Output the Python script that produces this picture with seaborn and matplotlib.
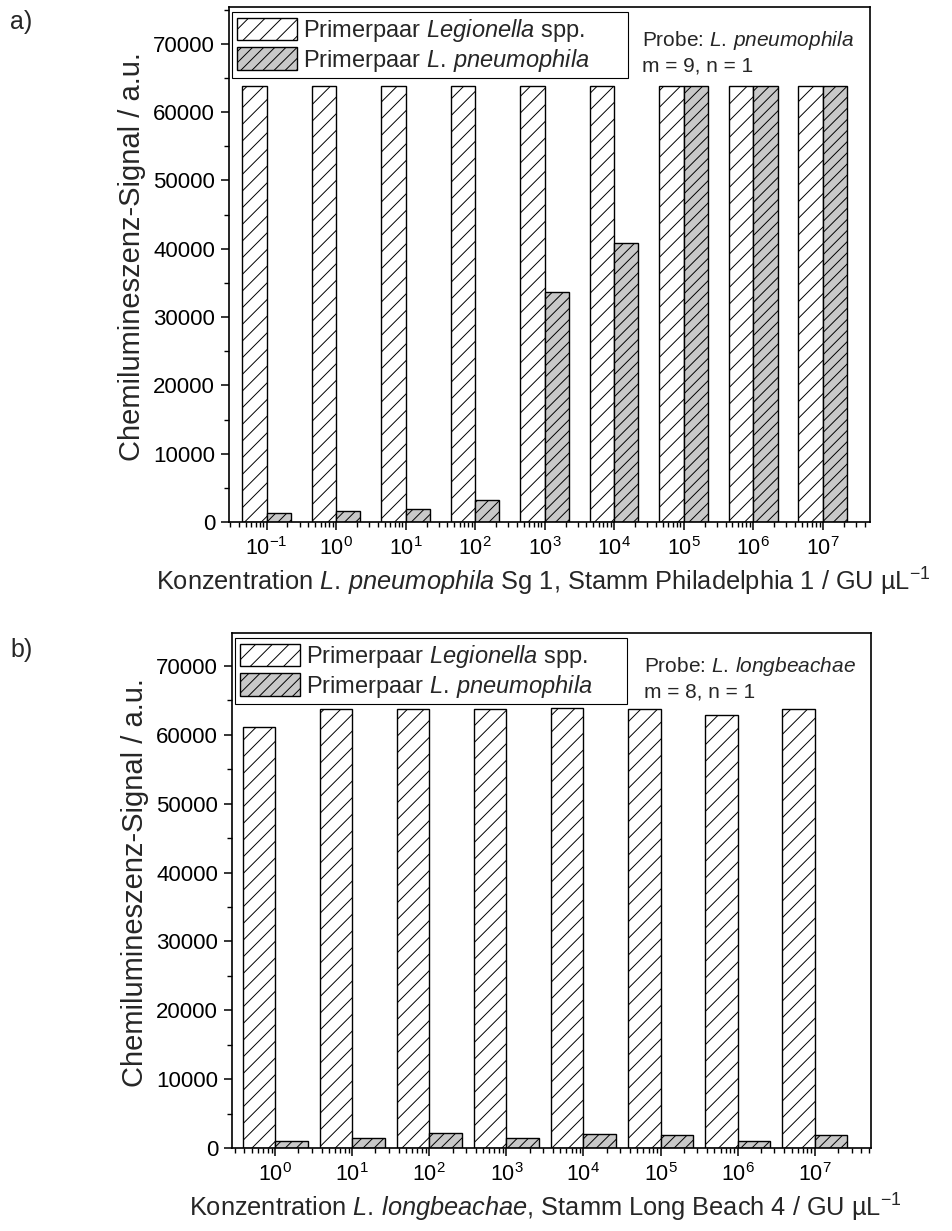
import numpy as np
import pandas as pd
import matplotlib
matplotlib.use("Agg")
import matplotlib.pyplot as plt
from matplotlib.patches import Patch
from matplotlib.ticker import MultipleLocator, FixedLocator
import seaborn as sns

# ---- data ----
series = ["Legionella spp.", "L. pneumophila"]

exp_a = [-1, 0, 1, 2, 3, 4, 5, 6, 7]
spp_a = [63900, 63900, 63900, 63900, 63900, 63900, 63900, 63900, 63900]
pn_a = [1270, 1570, 1860, 3180, 33700, 40800, 63900, 63900, 63900]

exp_b = [0, 1, 2, 3, 4, 5, 6, 7]
spp_b = [61100, 63800, 63800, 63800, 63900, 63800, 62900, 63800]
pn_b = [980, 1500, 2150, 1450, 2060, 1920, 1070, 1820]

ylabel = "Chemilumineszenz-Signal / a.u."
xlabel_a = r"Konzentration $\mathit{L.\,pneumophila}$ Sg 1, Stamm Philadelphia 1 / GU µL$^{-1}$"
xlabel_b = r"Konzentration $\mathit{L.\,longbeachae}$, Stamm Long Beach 4 / GU µL$^{-1}$"
leg_labels = [r"Primerpaar $\mathit{Legionella}$ spp.", r"Primerpaar $\mathit{L.\,pneumophila}$"]
probe_a = "Probe: $\\mathit{L.\\,pneumophila}$\nm = 9, n = 1"
probe_b = "Probe: $\\mathit{L.\\,longbeachae}$\nm = 8, n = 1"

# ---- style ----
sns.set_theme(style="ticks")
plt.rcParams["font.family"] = ["Liberation Sans", "DejaVu Sans"]
plt.rcParams["mathtext.fontset"] = "custom"
plt.rcParams["mathtext.rm"] = "Liberation Sans"
plt.rcParams["mathtext.it"] = "Liberation Sans:italic"
plt.rcParams["mathtext.bf"] = "Liberation Sans:bold"
plt.rcParams["hatch.linewidth"] = 0.7

colors = ["white", "#c8c8c8"]
hatches = ["//", "///"]

fig = plt.figure(figsize=(9.53, 12.31), dpi=100)
W, H = 953, 1231


def add_ax(left, right, top, bottom):
    return fig.add_axes([left / W, 1 - bottom / H, (right - left) / W, (bottom - top) / H])


def draw(ax, exps, spp, pn, width, xlim, ylim, xlabel, probe, left_px):
    df = pd.DataFrame({
        "exp": exps + exps,
        "val": spp + pn,
        "series": [series[0]] * len(exps) + [series[1]] * len(exps),
    })
    sns.barplot(data=df, x="exp", y="val", hue="series", hue_order=series,
                palette=colors, native_scale=True, width=width,
                edgecolor="black", linewidth=1.0, saturation=1,
                errorbar=None, legend=False, ax=ax)
    for cont, h in zip(ax.containers, hatches):
        for p in cont:
            p.set_hatch(h)
    ax.set_xlim(*xlim)
    ax.set_ylim(*ylim)
    ax.set_xticks(exps)
    ax.set_xticklabels([f"$10^{{{e}}}$" for e in exps])
    minors = [d + np.log10(m) for d in range(-3, 10) for m in range(2, 10)]
    minors = [v for v in minors if xlim[0] <= v <= xlim[1]]
    ax.xaxis.set_minor_locator(FixedLocator(minors))
    ax.yaxis.set_major_locator(MultipleLocator(10000))
    ax.yaxis.set_minor_locator(MultipleLocator(5000))
    ax.tick_params(axis="both", which="major", direction="out", length=6, width=1.1,
                   color="black", labelcolor="black")
    ax.tick_params(axis="y", which="major", labelsize=16, pad=4)
    ax.tick_params(axis="x", which="major", labelsize=15.5, pad=5)
    ax.tick_params(axis="both", which="minor", direction="out", length=3.5, width=1.0,
                   color="black")
    for s in ax.spines.values():
        s.set_visible(True)
        s.set_linewidth(1.2)
        s.set_color("black")
    ax.set_ylabel(ylabel, fontsize=21)
    ax.yaxis.set_label_coords(-0.13, 0.515)
    ax.set_xlabel(xlabel, fontsize=18.3)
    ax.xaxis.set_label_coords(0.49, -0.086)
    handles = [Patch(facecolor=c, edgecolor="black", hatch=h, linewidth=1.0)
               for c, h in zip(colors, hatches)]
    x0 = 0.005
    x1 = (628 - left_px) / 641
    leg = ax.legend(handles, leg_labels, loc="upper left",
                    bbox_to_anchor=(x0, 0.5, x1 - x0, 0.49), mode="expand",
                    frameon=True, fancybox=False, edgecolor="black", fontsize=17,
                    handlelength=2.55, handleheight=1.1, handletextpad=0.25,
                    borderpad=0.2, labelspacing=0.12, borderaxespad=0)
    leg.get_frame().set_linewidth(0.8)
    leg.get_frame().set_alpha(1)
    ax.text(0.645, 0.958, probe, transform=ax.transAxes, fontsize=15,
            va="top", ha="left", linespacing=1.3)


ax_a = add_ax(229, 870, 7, 522)
draw(ax_a, exp_a, spp_a, pn_a, 0.70, (-1.54, 7.68), (0, 75400), xlabel_a, probe_a, 229)

ax_b = add_ax(232, 871, 633, 1148)
draw(ax_b, exp_b, spp_b, pn_b, 0.84, (-0.56, 7.73), (0, 74800), xlabel_b, probe_b, 232)

fig.text(10 / W, 1 - 22 / H, "a)", fontsize=18, va="center", ha="left")
fig.text(10 / W, 1 - 650 / H, "b)", fontsize=18, va="center", ha="left")

fig.savefig("out.png", dpi=100)
